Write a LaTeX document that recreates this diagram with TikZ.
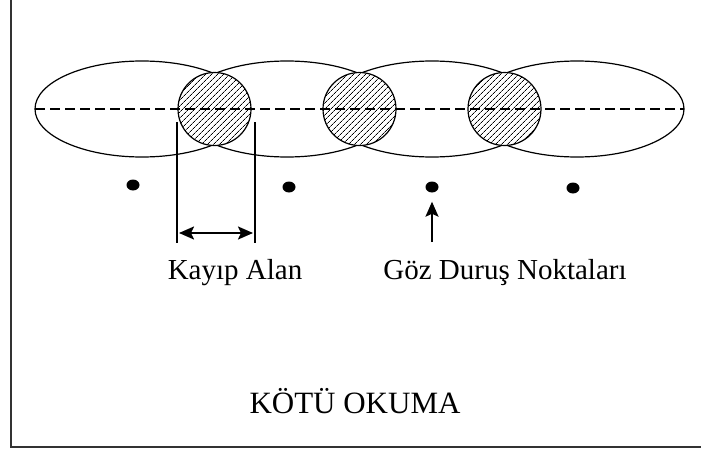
\documentclass[tikz,border=0pt]{standalone}
\usepackage{fontspec}
\setmainfont{Liberation Serif}
\usetikzlibrary{patterns.meta,arrows.meta,shapes.geometric}
\begin{document}
\begin{tikzpicture}[x=1pt,y=-1pt,
  frame/.style={line width=2pt,draw=black!80},
  fixfield/.style={line width=1.2pt},
  lostzone/.style={line width=1.2pt,preaction={fill=white},pattern={Lines[angle=45,distance=4pt,line width=0.7pt]}},
  axisline/.style={line width=1.2pt,dash pattern=on 10pt off 5pt},
  eyedot/.style={ellipse,fill=black,inner sep=0pt,minimum width=13pt,minimum height=11pt},
  label/.style={font=\fontsize{29}{34}\selectfont,inner sep=0pt,anchor=base},
  marker/.style={line width=1.4pt},
  pointer/.style={line width=2pt,-{Stealth[length=15pt,width=13pt,inset=3pt]}},
  span/.style={line width=2pt,{Stealth[length=15pt,width=13pt,inset=3pt]}-{Stealth[length=15pt,width=13pt,inset=3pt]}}]
\useasboundingbox (0,0) rectangle (701,450);
\fill[white] (0,0) rectangle (701,450);
\draw[frame] (11,0) -- (11,447) -- (701,447);
% fixation fields
\foreach \c in {142,287,432,577}
  \draw[fixfield] (\c,109) ellipse [x radius=107pt, y radius=48pt];
% overlap (lost) zones
\foreach \c in {214.5,359.5,504.5}
  \draw[lostzone] (\c,109) circle [radius=36.5pt];
% axis
\coordinate (axL) at (35,109);
\coordinate (axR) at (684,109);
\draw[axisline] (axL) -- (axR);
% eye fixation points
\node[eyedot] (d1) at (133,185) {};
\node[eyedot] (d2) at (289,187) {};
\node[eyedot] (d3) at (432,187) {};
\node[eyedot] (d4) at (573,188) {};
% lost area markers
\coordinate (m1t) at (177,122);
\coordinate (m1b) at (177,243);
\coordinate (m2t) at (255,122);
\coordinate (m2b) at (255,243);
\draw[marker] (m1t) -- (m1b);
\draw[marker] (m2t) -- (m2b);
\coordinate (s1) at (179,233);
\coordinate (s2) at (253,233);
\draw[span] (s1) -- (s2);
% labels
\node[label] (kayip) at (235,279) {Kayıp Alan};
\node[label] (goz) at (505,279) {Göz Duruş Noktaları};
\node[label,font=\fontsize{31}{36}\selectfont] (kotu) at (355,413) {KÖTÜ OKUMA};
\coordinate (pb) at (432,242);
\draw[pointer] (pb) -- ([yshift=-9pt]d3.south);
\end{tikzpicture}
\end{document}
